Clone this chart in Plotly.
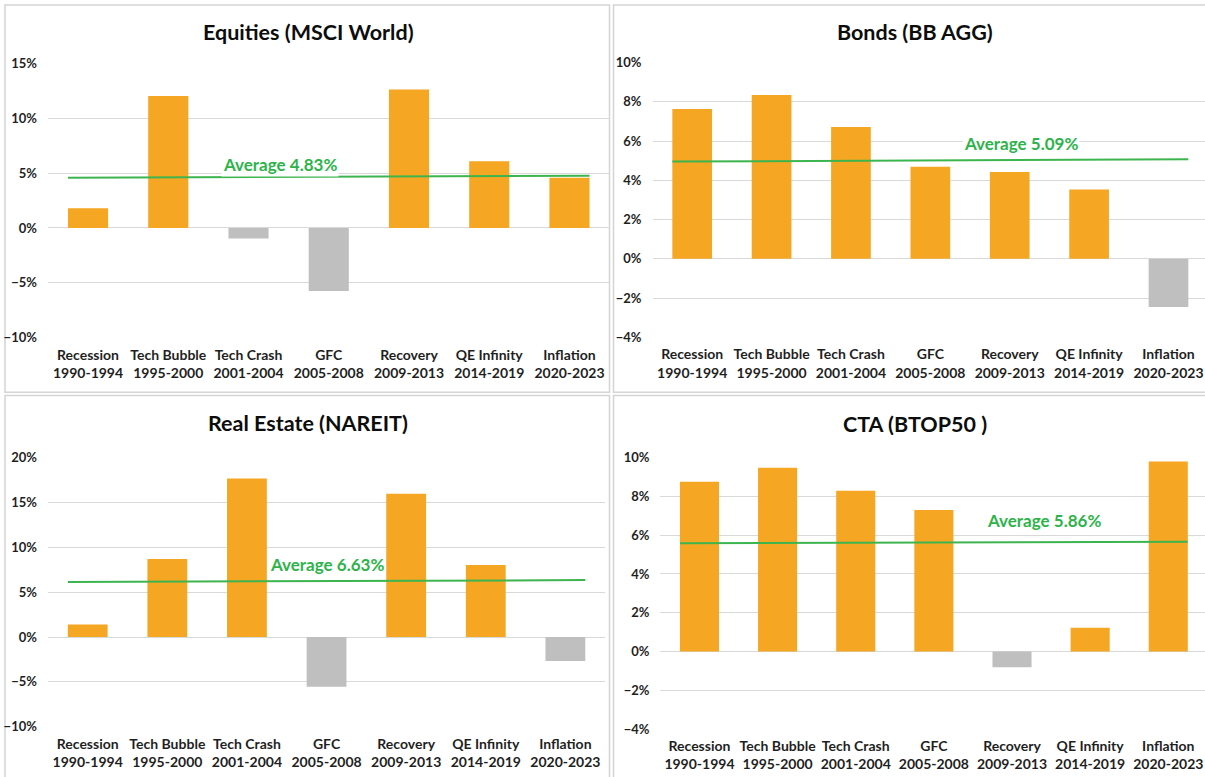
import plotly.graph_objects as go

W, H = 1205, 777

categories = ["Recession<br>1990-1994", "Tech Bubble<br>1995-2000", "Tech Crash<br>2001-2004",
              "GFC<br>2005-2008", "Recovery<br>2009-2013", "QE Infinity<br>2014-2019",
              "Inflation<br>2020-2023"]

titles = ["Equities (MSCI World)", "Bonds (BB AGG)", "Real Estate (NAREIT)", "CTA (BTOP50 )"]

equities = [1.79, 12.01, -0.96, -5.75, 12.61, 6.08, 4.57]
bonds = [7.64, 8.35, 6.72, 4.70, 4.43, 3.53, -2.45]
real_estate = [1.41, 8.70, 17.69, -5.54, 15.98, 8.03, -2.68]
cta = [8.76, 9.48, 8.30, 7.30, -0.81, 1.22, 9.81]

averages = [4.83, 5.09, 6.63, 5.86]
# average line as drawn in the picture (start / end levels)
avg_line_start = [4.57, 4.96, 6.13, 5.58]
avg_line_end = [4.75, 5.08, 6.35, 5.66]

y_ranges = [(-10, 15, 5), (-4, 10, 2), (-10, 20, 5), (-4, 10, 2)]

ORANGE = "#F5A623"
GRAY = "#BFBFBF"
GREEN_LINE = "#3DB54F"
GREEN_TEXT = "#2DB34A"
GRID = "#D9D9D9"
FONT = "Lato"

def px_x(p):
    return p / W

def px_y(p):
    return 1 - p / H

# plot-area pixel boxes: (left, right, top, bottom), x-range max
panels = [
    dict(box=(47.9, 609.6, 63.3, 337.7), xmax=6.5, title_xy=(308, 32), label_xy=(2.39, 5.78)),
    dict(box=(652.5, 1205, 62.7, 337.3), xmax=6.46, title_xy=(915, 32), label_xy=(4.14, 5.89)),
    dict(box=(47.9, 605.2, 457.7, 726.7), xmax=6.5, title_xy=(308, 423), label_xy=(3.01, 8.1)),
    dict(box=(660.4, 1205, 457.7, 729.0), xmax=6.47, title_xy=(915, 424), label_xy=(4.41, 6.78)),
]

series = [equities, bonds, real_estate, cta]
bar_width = 0.5

fig = go.Figure()
annotations = []
layout_axes = {}

for i, (vals, pan) in enumerate(zip(series, panels)):
    n = i + 1
    xa = "x" if n == 1 else f"x{n}"
    ya = "y" if n == 1 else f"y{n}"
    idx = list(range(len(categories)))
    colors = [ORANGE if v >= 0 else GRAY for v in vals]
    fig.add_trace(go.Bar(x=idx, y=vals, width=bar_width, marker=dict(color=colors, line=dict(width=0)),
                         xaxis=xa, yaxis=ya, showlegend=False, hoverinfo="x+y"))
    fig.add_trace(go.Scatter(x=[idx[0] - bar_width / 2, idx[-1] + bar_width / 2],
                             y=[avg_line_start[i], avg_line_end[i]], mode="lines",
                             line=dict(color=GREEN_LINE, width=2), xaxis=xa, yaxis=ya,
                             showlegend=False, hoverinfo="skip"))
    l, r, t, b = pan["box"]
    lo, hi, dt = y_ranges[i]
    layout_axes["xaxis" if n == 1 else f"xaxis{n}"] = dict(
        domain=[px_x(l), px_x(r)], range=[-0.5, pan["xmax"]], anchor=ya,
        tickmode="array", tickvals=idx, ticktext=categories, automargin=False,
        showgrid=False, zeroline=False, showline=False, ticks="",
        ticklabelstandoff=7, ticklabeloverflow="allow",
        tickfont=dict(family=FONT, size=14, color="#1F1F1F", weight="bold"),
        fixedrange=True,
    )
    layout_axes["yaxis" if n == 1 else f"yaxis{n}"] = dict(
        domain=[px_y(b), px_y(t)], range=[lo, hi], dtick=dt, tick0=0, anchor=xa,
        ticksuffix="%", showgrid=True, gridcolor=GRID, gridwidth=1, automargin=False,
        zeroline=True, zerolinecolor=GRID, zerolinewidth=1, showline=False, ticks="",
        ticklabelstandoff=10,
        tickfont=dict(family=FONT, size=13, color="#1F1F1F", weight="bold"),
        fixedrange=True,
    )
    tx, ty = pan["title_xy"]
    annotations.append(dict(text=f"<b>{titles[i]}</b>", x=px_x(tx), y=px_y(ty), xref="paper", yref="paper",
                            xanchor="center", yanchor="middle", showarrow=False,
                            font=dict(family=FONT, size=21.5, color="#0D0D0D")))
    lx, ly = pan["label_xy"]
    annotations.append(dict(text=f"<b>Average {averages[i]:.2f}%</b>", x=lx, y=ly, xref=xa, yref=ya,
                            xanchor="center", yanchor="middle", showarrow=False, bgcolor="white",
                            borderpad=1, font=dict(family=FONT, size=17, color=GREEN_TEXT)))

shapes = []
panel_frames = [(5, 609.5, 5, 392.3), (613.5, 1230, 5, 392.3), (5, 609.5, 395.5, 800), (613.5, 1230, 395.5, 800)]
for (l, r, t, b) in panel_frames:
    shapes.append(dict(type="rect", xref="paper", yref="paper", x0=px_x(l), x1=px_x(r), y0=px_y(b), y1=px_y(t),
                       line=dict(color="#D4D4D4", width=1.5), fillcolor="rgba(0,0,0,0)", layer="below"))

fig.update_layout(
    width=W, height=H, margin=dict(l=0, r=0, t=0, b=0, pad=0),
    paper_bgcolor="white", plot_bgcolor="white",
    annotations=annotations, shapes=shapes, bargap=0.5,
    font=dict(family=FONT),
    **layout_axes,
)

fig.write_html("out.html", config={"displayModeBar": False},
               post_script="document.body.style.margin='0';document.body.style.overflow='hidden';")
